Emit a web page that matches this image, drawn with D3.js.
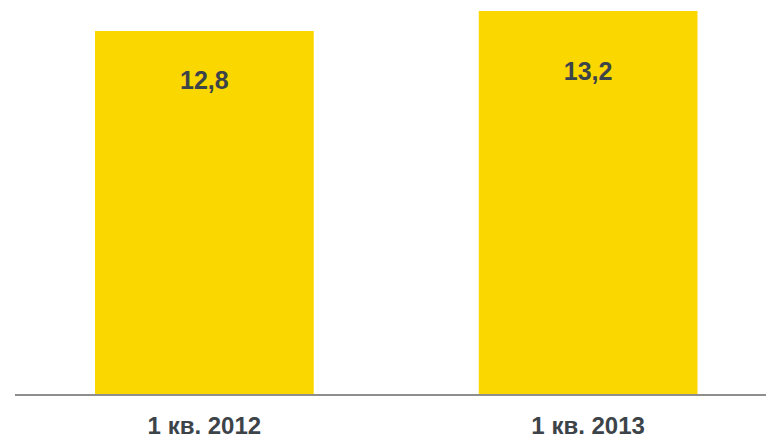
<!DOCTYPE html>
<html>
<head>
<meta charset="utf-8">
<script src="https://cdn.jsdelivr.net/npm/d3@7/dist/d3.min.js"></script>
<style>
  html, body { margin: 0; padding: 0; background: #ffffff; }
  svg { display: block; }
</style>
</head>
<body>
<svg id="chart" width="766" height="439"></svg>
<script>
// Quarterly figures
const categories = ["1 кв. 2012", "1 кв. 2013"];
const values = [12.8, 13.2];
const valueLabels = ["12,8", "13,2"];

const width = 766, height = 439;
const baseY = 395;

const svg = d3.select("#chart");

const x = d3.scaleBand()
  .domain(categories)
  .range([95, 697.5])
  .paddingInner(0.43)
  .paddingOuter(0);

const y = d3.scaleLinear()
  .domain([5.52, 13.42])
  .range([baseY, 0]);

// value labels sit inside the bars, following the values
const labelY = d3.scaleLinear()
  .domain([12.8, 13.2])
  .range([89, 80]);

const data = categories.map((c, i) => ({ c, v: values[i], t: valueLabels[i] }));

svg.selectAll("rect.bar")
  .data(data)
  .join("rect")
  .attr("class", "bar")
  .attr("x", d => x(d.c))
  .attr("width", x.bandwidth())
  .attr("y", d => y(d.v))
  .attr("height", d => baseY - y(d.v))
  .attr("fill", "#fbd700");

// baseline
svg.append("line")
  .attr("x1", 15).attr("x2", width)
  .attr("y1", baseY).attr("y2", baseY)
  .attr("stroke", "#8e8e8e")
  .attr("stroke-width", 2);

svg.selectAll("text.val")
  .data(data)
  .join("text")
  .attr("class", "val")
  .attr("x", d => x(d.c) + x.bandwidth() / 2)
  .attr("y", d => labelY(d.v))
  .attr("text-anchor", "middle")
  .attr("font-family", "Liberation Sans, Arial, sans-serif")
  .attr("font-weight", "bold")
  .attr("font-size", 25)
  .attr("fill", "#3d4449")
  .text(d => d.t);

svg.selectAll("text.cat")
  .data(data)
  .join("text")
  .attr("class", "cat")
  .attr("x", d => x(d.c) + x.bandwidth() / 2)
  .attr("y", 434)
  .attr("text-anchor", "middle")
  .attr("font-family", "Liberation Sans, Arial, sans-serif")
  .attr("font-weight", "bold")
  .attr("font-size", 24)
  .attr("fill", "#3d4449")
  .text(d => d.c);
</script>
</body>
</html>
